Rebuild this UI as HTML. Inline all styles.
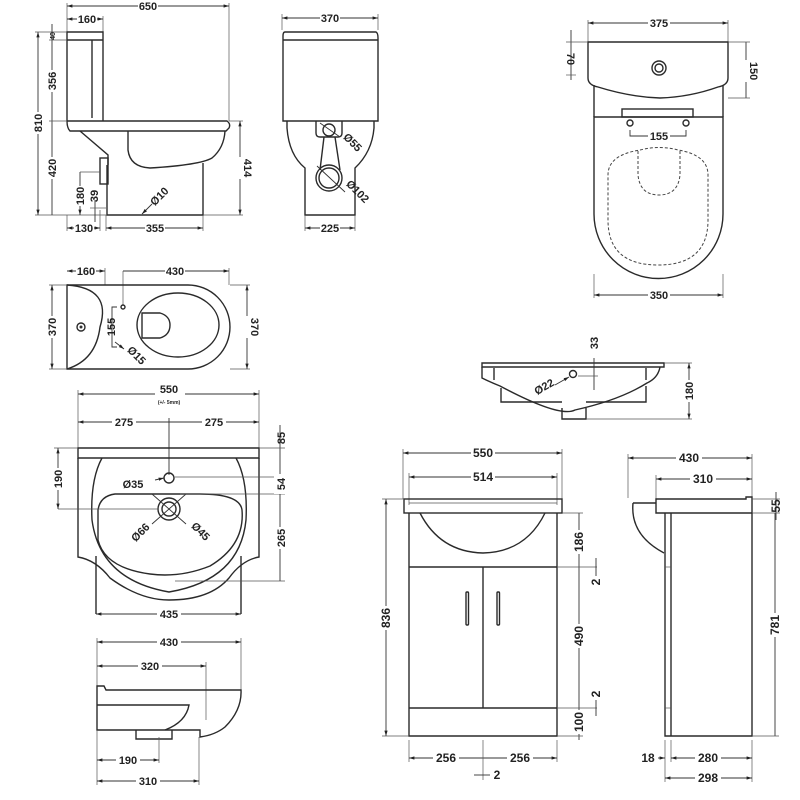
<!DOCTYPE html>
<html><head><meta charset="utf-8"><style>
html,body{margin:0;padding:0;background:#fff;}
svg{display:block;}
text{font-family:"Liberation Sans",sans-serif;font-weight:bold;font-size:11px;fill:#222;}
.o{fill:none;stroke:#2a2a2a;stroke-width:1.4;}
.d{fill:none;stroke:#333;stroke-width:0.9;}
.e{fill:none;stroke:#555;stroke-width:0.7;}
.ds{fill:none;stroke:#444;stroke-width:1;stroke-dasharray:3 2;}
</style></head><body>
<svg width="800" height="800" viewBox="0 0 800 800" xmlns="http://www.w3.org/2000/svg">
<defs>
<marker id="a" viewBox="0 0 10 10" refX="10" refY="5" markerWidth="6" markerHeight="6" orient="auto-start-reverse"><path d="M0,2 L10,5 L0,8z" fill="#222"/></marker>
</defs>
<rect width="800" height="800" fill="#fff"/>

<!-- ===== Toilet side view ===== -->
<g>
<line class="d" x1="67" y1="6" x2="229" y2="6" marker-start="url(#a)" marker-end="url(#a)"/>
<rect x="138" y="0" width="20" height="12" fill="#fff"/><text x="148" y="10" text-anchor="middle">650</text>
<line class="e" x1="67" y1="3" x2="67" y2="32"/><line class="e" x1="229" y1="3" x2="229" y2="121"/>
<line class="d" x1="67" y1="19" x2="103" y2="19" marker-start="url(#a)" marker-end="url(#a)"/>
<rect x="77" y="13" width="20" height="12" fill="#fff"/><text x="87" y="23" text-anchor="middle">160</text>
<line class="e" x1="103" y1="16" x2="103" y2="32"/>
<path class="o" d="M67,32 H103 V40 H67 Z M67,40 V121 M103,40 V121 M92,40 V118"/>
<path class="o" d="M67,121 H227 Q231,124 229,128 L226,131 H70 Q67,128 67,121"/>
<path class="o" d="M80,131 L108,155 L108,165"/>
<path class="o" d="M128,131 V150 Q130,167 150,168 Q200,165 212,158 Q224,148 225,131"/>
<path class="o" d="M107,165 V215 H203 V163"/>
<rect class="o" x="100" y="158" width="8" height="26"/>
<line class="d" x1="38" y1="32" x2="38" y2="215" marker-start="url(#a)" marker-end="url(#a)"/>
<rect x="31" y="112" width="14" height="22" fill="#fff"/><text transform="translate(42,123) rotate(-90)" text-anchor="middle">810</text>
<line class="e" x1="35" y1="32" x2="67" y2="32"/><line class="e" x1="35" y1="215" x2="107" y2="215"/>
<line class="d" x1="52" y1="24" x2="52" y2="215"/>
<text transform="translate(55,36) rotate(-90)" text-anchor="middle" style="font-size:7px">40</text>
<rect x="46" y="70" width="12" height="22" fill="#fff"/><text transform="translate(56,81) rotate(-90)" text-anchor="middle">356</text>
<rect x="46" y="157" width="12" height="22" fill="#fff"/><text transform="translate(56,168) rotate(-90)" text-anchor="middle">420</text>
<line class="e" x1="49" y1="40" x2="67" y2="40"/><line class="e" x1="49" y1="121" x2="67" y2="121"/>
<line class="d" x1="80" y1="172" x2="80" y2="215" marker-end="url(#a)"/><line class="e" x1="80" y1="172" x2="100" y2="172"/>
<rect x="74" y="186" width="12" height="20" fill="#fff"/><text transform="translate(84,196) rotate(-90)" text-anchor="middle">180</text>
<line class="d" x1="95" y1="200" x2="95" y2="222"/><line class="e" x1="90" y1="208" x2="106" y2="208"/>
<text transform="translate(98,196) rotate(-90)" text-anchor="middle">39</text>
<line class="d" x1="240" y1="121" x2="240" y2="215" marker-start="url(#a)" marker-end="url(#a)"/>
<line class="e" x1="229" y1="121" x2="243" y2="121"/><line class="e" x1="203" y1="215" x2="243" y2="215"/>
<rect x="234" y="157" width="12" height="22" fill="#fff"/><text transform="translate(244,168) rotate(90)" text-anchor="middle">414</text>
<line class="d" x1="67" y1="228" x2="100" y2="228" marker-start="url(#a)" marker-end="url(#a)"/>
<rect x="74" y="222" width="20" height="12" fill="#fff"/><text x="84" y="232" text-anchor="middle">130</text>
<line class="e" x1="67" y1="215" x2="67" y2="231"/><line class="e" x1="100" y1="210" x2="100" y2="231"/>
<line class="d" x1="106" y1="228" x2="203" y2="228" marker-start="url(#a)" marker-end="url(#a)"/>
<rect x="145" y="222" width="20" height="12" fill="#fff"/><text x="155" y="232" text-anchor="middle">355</text>
<line class="e" x1="106" y1="215" x2="106" y2="231"/><line class="e" x1="203" y1="215" x2="203" y2="231"/>
<line class="d" x1="142" y1="214" x2="152" y2="204" marker-start="url(#a)"/>
<text transform="translate(162,199) rotate(-45)" text-anchor="middle">Ø10</text>
</g>

<!-- ===== Toilet front view ===== -->
<g>
<line class="d" x1="282" y1="18" x2="378" y2="18" marker-start="url(#a)" marker-end="url(#a)"/>
<rect x="320" y="12" width="20" height="12" fill="#fff"/><text x="330" y="22" text-anchor="middle">370</text>
<line class="e" x1="282" y1="14" x2="282" y2="30"/><line class="e" x1="378" y1="14" x2="378" y2="30"/>
<path class="o" d="M285,32 H376 Q378,33 378,38 V121 H283 V36 Q283,32 285,32 M283,40 H378"/>
<path class="o" d="M287,121 V128 Q289,155 305,168 V215 H355 V168 Q372,152 374,128 V121"/>
<path class="o" d="M316,121 V133 Q316,137 320,137 H338 Q342,137 342,133 V121"/>
<circle class="o" cx="329" cy="130" r="6"/>
<path class="o" d="M324,137 L320,170 M335,137 L340,170"/>
<circle class="o" cx="329" cy="178" r="13"/><circle class="o" cx="329" cy="178" r="10"/>
<line class="d" x1="317" y1="166" x2="345" y2="192"/><line class="d" x1="320" y1="123" x2="340" y2="137"/>
<text transform="translate(350,145) rotate(45)" text-anchor="middle">Ø55</text>
<text transform="translate(355,194) rotate(45)" text-anchor="middle">Ø102</text>
<line class="d" x1="305" y1="228" x2="355" y2="228" marker-start="url(#a)" marker-end="url(#a)"/>
<rect x="320" y="222" width="20" height="12" fill="#fff"/><text x="330" y="232" text-anchor="middle">225</text>
<line class="e" x1="305" y1="215" x2="305" y2="231"/><line class="e" x1="355" y1="215" x2="355" y2="231"/>
</g>

<!-- ===== Toilet top plan ===== -->
<g>
<line class="d" x1="67" y1="271" x2="105" y2="271" marker-start="url(#a)" marker-end="url(#a)"/>
<rect x="76" y="265" width="20" height="12" fill="#fff"/><text x="86" y="275" text-anchor="middle">160</text>
<line class="e" x1="105" y1="268" x2="105" y2="285"/>
<line class="d" x1="123" y1="271" x2="229" y2="271" marker-end="url(#a)"/>
<rect x="165" y="265" width="20" height="12" fill="#fff"/><text x="175" y="275" text-anchor="middle">430</text>
<line class="e" x1="123" y1="271" x2="123" y2="305"/><line class="e" x1="229" y1="268" x2="229" y2="285"/>
<path class="o" d="M67,285 H188 A42,42 0 0 1 188,369 H67 Z"/>
<path class="o" d="M67,285 Q112,288 100,327 Q96,360 67,369"/>
<circle class="o" cx="81" cy="327" r="4"/><circle cx="81" cy="327" r="1.5" fill="#333"/>
<ellipse class="o" cx="178" cy="325" rx="41" ry="32"/>
<path class="o" d="M142,313 H160 Q170,316 170,325 Q170,335 160,338 H142 Z"/>
<circle class="o" cx="123" cy="307" r="2"/>
<path class="d" d="M117,307 H112 V347 H117"/>
<text transform="translate(115,327) rotate(-90)" text-anchor="middle">155</text>
<line class="d" x1="115" y1="342" x2="124" y2="349" marker-end="url(#a)"/>
<text transform="translate(134,358) rotate(45)" text-anchor="middle">Ø15</text>
<line class="d" x1="52" y1="285" x2="52" y2="369" marker-start="url(#a)" marker-end="url(#a)"/>
<line class="e" x1="49" y1="285" x2="67" y2="285"/><line class="e" x1="49" y1="369" x2="67" y2="369"/>
<rect x="46" y="316" width="12" height="22" fill="#fff"/><text transform="translate(56,327) rotate(-90)" text-anchor="middle">370</text>
<line class="d" x1="247" y1="285" x2="247" y2="369" marker-start="url(#a)" marker-end="url(#a)"/>
<line class="e" x1="230" y1="285" x2="250" y2="285"/><line class="e" x1="230" y1="369" x2="250" y2="369"/>
<rect x="241" y="316" width="12" height="22" fill="#fff"/><text transform="translate(251,327) rotate(90)" text-anchor="middle">370</text>
</g>

<!-- ===== Toilet plan right ===== -->
<g>
<line class="d" x1="588" y1="23" x2="728" y2="23" marker-start="url(#a)" marker-end="url(#a)"/>
<rect x="648" y="17" width="22" height="12" fill="#fff"/><text x="659" y="27" text-anchor="middle">375</text>
<line class="e" x1="588" y1="20" x2="588" y2="42"/><line class="e" x1="728" y1="20" x2="728" y2="42"/>
<path class="o" d="M588,42 H728 V78 Q728,85 718,87 Q690,97 660,98 Q630,97 598,87 Q588,85 588,78 Z"/>
<circle class="o" cx="659" cy="68" r="7"/><circle class="o" cx="659" cy="68" r="4"/>
<path class="o" d="M594,85 V117 M723,85 V117"/>
<rect class="o" x="622" y="109" width="71" height="8"/>
<path class="o" d="M594,117 H723 V214 A64.5,64.5 0 0 1 594,214 Z"/>
<circle class="o" cx="630" cy="123" r="3"/><circle class="o" cx="686" cy="123" r="3"/>
<path class="d" d="M630,130 V136 H686 V130"/>
<rect x="648" y="130" width="22" height="12" fill="#fff"/><text x="659" y="140" text-anchor="middle">155</text>
<path class="ds" d="M640,150 Q660,145 678,150 Q708,155 708,175 V220 Q708,265 658,265 Q608,265 608,220 V175 Q608,155 640,150 Z"/>
<path class="ds" d="M638,151 V175 Q640,195 659,195 Q678,195 680,175 V151"/>
<line class="d" x1="571" y1="30" x2="571" y2="80"/>
<line class="e" x1="566" y1="42" x2="588" y2="42"/><line class="e" x1="566" y1="75" x2="576" y2="75"/>
<text transform="translate(567,59) rotate(90)" text-anchor="middle">70</text>
<line class="d" x1="746" y1="42" x2="746" y2="98"/>
<line class="e" x1="728" y1="42" x2="750" y2="42"/><line class="e" x1="728" y1="98" x2="750" y2="98"/>
<rect x="740" y="60" width="12" height="22" fill="#fff"/><text transform="translate(750,71) rotate(90)" text-anchor="middle">150</text>
<line class="d" x1="594" y1="295" x2="723" y2="295" marker-start="url(#a)" marker-end="url(#a)"/>
<rect x="648" y="289" width="22" height="12" fill="#fff"/><text x="659" y="299" text-anchor="middle">350</text>
<line class="e" x1="594" y1="274" x2="594" y2="298"/><line class="e" x1="723" y1="274" x2="723" y2="298"/>
</g>

<!-- ===== small basin side (right) ===== -->
<g>
<path class="o" d="M482,363 H664 V367 H482 Z"/>
<path class="o" d="M482,367 V378 Q490,382 500,386 Q560,418 575,410 Q620,400 647,383 Q658,378 660,367"/>
<path class="o" d="M501,388 V402 H562 M586,402 H646 V386"/>
<path class="o" d="M562,408 V419 H586 V408"/>
<path class="o" d="M494,368 V380 M646,368 V380"/>
<circle class="o" cx="573" cy="374" r="3.5"/>
<line class="d" x1="594" y1="358" x2="594" y2="390"/><line class="e" x1="578" y1="376" x2="598" y2="376"/>
<text transform="translate(598,343) rotate(-90)" text-anchor="middle">33</text>
<line class="d" x1="555" y1="385" x2="569" y2="377" marker-end="url(#a)"/>
<text transform="translate(546,390) rotate(-30)" text-anchor="middle">Ø22</text>
<line class="d" x1="689" y1="363" x2="689" y2="419" marker-start="url(#a)" marker-end="url(#a)"/>
<line class="e" x1="664" y1="363" x2="692" y2="363"/><line class="e" x1="586" y1="419" x2="692" y2="419"/>
<rect x="683" y="380" width="12" height="22" fill="#fff"/><text transform="translate(693,391) rotate(-90)" text-anchor="middle">180</text>
</g>

<!-- ===== Basin top view ===== -->
<g>
<line class="d" x1="78" y1="394" x2="259" y2="394" marker-start="url(#a)" marker-end="url(#a)"/>
<rect x="155" y="382" width="30" height="24" fill="#fff"/>
<text x="169" y="393" text-anchor="middle">550</text>
<text x="169" y="404" text-anchor="middle" style="font-size:5px">(+/- 5mm)</text>
<line class="e" x1="78" y1="390" x2="78" y2="448"/><line class="e" x1="259" y1="390" x2="259" y2="448"/>
<line class="d" x1="78" y1="422" x2="259" y2="422" marker-start="url(#a)" marker-end="url(#a)"/>
<rect x="112" y="416" width="24" height="12" fill="#fff"/><text x="124" y="426" text-anchor="middle">275</text>
<rect x="202" y="416" width="24" height="12" fill="#fff"/><text x="214" y="426" text-anchor="middle">275</text>
<line class="d" x1="169" y1="418" x2="169" y2="475"/>
<path class="o" d="M78,448 H259 V458 H78 Z"/>
<path class="o" d="M78,458 V557 Q96,560 110,578 Q140,600 169,600 Q210,600 229,578 Q242,560 259,557 V458"/>
<path class="o" d="M102,458 Q90,480 92,520 Q100,580 169,592 Q240,580 246,520 Q248,480 236,458"/>
<path class="o" d="M96,556 V614 M241,556 V614"/>
<path class="o" d="M98,510 Q100,496 115,494 L200,494 Q240,494 242,510 Q245,545 210,566 Q180,578 150,574 Q105,568 98,540 Z"/>
<circle class="o" cx="169" cy="478" r="5"/>
<circle class="o" cx="169" cy="509" r="11"/><circle class="o" cx="169" cy="509" r="7"/>
<line class="d" x1="152" y1="494" x2="186" y2="524"/><line class="d" x1="186" y1="494" x2="152" y2="524"/>
<line class="d" x1="155" y1="480" x2="164" y2="478" marker-end="url(#a)"/>
<line class="e" x1="175" y1="477" x2="285" y2="477"/><line class="e" x1="180" y1="494" x2="285" y2="494"/>
<line class="e" x1="58" y1="509" x2="158" y2="509"/><line class="e" x1="175" y1="581" x2="285" y2="581"/>
<text x="133" y="488" text-anchor="middle">Ø35</text>
<text transform="translate(143,535) rotate(-45)" text-anchor="middle">Ø66</text>
<text transform="translate(198,534) rotate(45)" text-anchor="middle">Ø45</text>
<line class="d" x1="58" y1="448" x2="58" y2="509" marker-start="url(#a)" marker-end="url(#a)"/>
<line class="e" x1="54" y1="448" x2="78" y2="448"/>
<rect x="52" y="468" width="12" height="22" fill="#fff"/><text transform="translate(62,479) rotate(-90)" text-anchor="middle">190</text>
<line class="d" x1="280" y1="425" x2="280" y2="581" />
<line class="e" x1="259" y1="448" x2="285" y2="448"/>
<text transform="translate(285,438) rotate(-90)" text-anchor="middle">85</text>
<rect x="274" y="474" width="12" height="20" fill="#fff"/><text transform="translate(285,484) rotate(-90)" text-anchor="middle">54</text>
<rect x="274" y="527" width="12" height="22" fill="#fff"/><text transform="translate(285,538) rotate(-90)" text-anchor="middle">265</text>
<line class="d" x1="96" y1="614" x2="241" y2="614" marker-start="url(#a)" marker-end="url(#a)"/>
<rect x="157" y="608" width="24" height="12" fill="#fff"/><text x="169" y="618" text-anchor="middle">435</text>
</g>

<!-- ===== Basin side view ===== -->
<g>
<line class="d" x1="97" y1="642" x2="241" y2="642" marker-start="url(#a)" marker-end="url(#a)"/>
<rect x="157" y="636" width="24" height="12" fill="#fff"/><text x="169" y="646" text-anchor="middle">430</text>
<line class="e" x1="97" y1="638" x2="97" y2="686"/><line class="e" x1="241" y1="638" x2="241" y2="690"/>
<line class="d" x1="97" y1="666" x2="206" y2="666" marker-start="url(#a)" marker-end="url(#a)"/>
<rect x="138" y="660" width="24" height="12" fill="#fff"/><text x="150" y="670" text-anchor="middle">320</text>
<line class="e" x1="206" y1="662" x2="206" y2="720"/>
<path class="o" d="M97,686 H104 L106,690 H241 Q242,710 225,727 Q215,735 200,737 V730 H97 Z"/>
<path class="o" d="M97,705 H189 Q186,722 165,730"/>
<path class="o" d="M136,730 V739 H172 V730"/>
<line class="e" x1="97" y1="730" x2="97" y2="785"/><line class="e" x1="159" y1="737" x2="159" y2="763"/><line class="e" x1="199" y1="737" x2="199" y2="785"/>
<line class="d" x1="97" y1="760" x2="159" y2="760" marker-start="url(#a)" marker-end="url(#a)"/>
<rect x="116" y="754" width="24" height="12" fill="#fff"/><text x="128" y="764" text-anchor="middle">190</text>
<line class="d" x1="97" y1="781" x2="199" y2="781" marker-start="url(#a)" marker-end="url(#a)"/>
<rect x="136" y="775" width="24" height="12" fill="#fff"/><text x="148" y="785" text-anchor="middle">310</text>
</g>

<!-- ===== Vanity front ===== -->
<g>
<line class="d" x1="403" y1="453" x2="562" y2="453" marker-start="url(#a)" marker-end="url(#a)"/>
<rect x="471" y="446" width="24" height="14" fill="#fff"/><text x="483" y="457" text-anchor="middle" style="font-size:12px">550</text>
<line class="e" x1="403" y1="449" x2="403" y2="499"/><line class="e" x1="562" y1="449" x2="562" y2="499"/>
<line class="d" x1="409" y1="477" x2="557" y2="477" marker-start="url(#a)" marker-end="url(#a)"/>
<rect x="471" y="470" width="24" height="14" fill="#fff"/><text x="483" y="481" text-anchor="middle" style="font-size:12px">514</text>
<line class="e" x1="409" y1="473" x2="409" y2="505"/><line class="e" x1="557" y1="473" x2="557" y2="505"/>
<rect class="o" x="404" y="499" width="158" height="14"/>
<line class="e" x1="409" y1="503" x2="557" y2="503"/>
<path class="o" d="M409,513 V736 H557 V513"/>
<path class="o" d="M420,513 Q440,552 483,553 Q526,552 545,513"/>
<path class="o" d="M409,567 H557 M409,708 H557 M483,567 V708"/>
<rect class="o" x="466" y="592" width="2.5" height="33" rx="1"/>
<rect class="o" x="497" y="592" width="2.5" height="33" rx="1"/>
<line class="d" x1="386" y1="499" x2="386" y2="736" marker-start="url(#a)" marker-end="url(#a)"/>
<line class="e" x1="382" y1="499" x2="404" y2="499"/><line class="e" x1="382" y1="736" x2="409" y2="736"/>
<rect x="379" y="606" width="14" height="24" fill="#fff"/><text transform="translate(390,618) rotate(-90)" text-anchor="middle" style="font-size:12px">836</text>
<line class="d" x1="579" y1="513" x2="579" y2="740"/>
<line class="e" x1="562" y1="513" x2="583" y2="513"/><line class="e" x1="557" y1="567" x2="597" y2="567"/>
<line class="e" x1="557" y1="708" x2="597" y2="708"/><line class="e" x1="557" y1="736" x2="583" y2="736"/>
<rect x="572" y="530" width="14" height="24" fill="#fff"/><text transform="translate(583,542) rotate(-90)" text-anchor="middle" style="font-size:12px">186</text>
<rect x="572" y="624" width="14" height="24" fill="#fff"/><text transform="translate(583,636) rotate(-90)" text-anchor="middle" style="font-size:12px">490</text>
<rect x="572" y="710" width="14" height="24" fill="#fff"/><text transform="translate(583,722) rotate(-90)" text-anchor="middle" style="font-size:12px">100</text>
<line class="d" x1="596" y1="558" x2="596" y2="576"/><line class="d" x1="596" y1="700" x2="596" y2="716"/>
<text transform="translate(600,582) rotate(-90)" text-anchor="middle" style="font-size:12px">2</text>
<text transform="translate(600,694) rotate(-90)" text-anchor="middle" style="font-size:12px">2</text>
<line class="d" x1="409" y1="758" x2="557" y2="758" marker-start="url(#a)" marker-end="url(#a)"/>
<line class="e" x1="409" y1="740" x2="409" y2="762"/><line class="e" x1="557" y1="740" x2="557" y2="762"/>
<line class="e" x1="483" y1="740" x2="483" y2="780"/>
<rect x="433" y="751" width="26" height="14" fill="#fff"/><text x="446" y="762" text-anchor="middle" style="font-size:12px">256</text>
<rect x="507" y="751" width="26" height="14" fill="#fff"/><text x="520" y="762" text-anchor="middle" style="font-size:12px">256</text>
<line class="d" x1="474" y1="775" x2="490" y2="775"/>
<text x="497" y="779" text-anchor="middle" style="font-size:12px">2</text>
</g>

<!-- ===== Vanity side ===== -->
<g>
<line class="d" x1="628" y1="458" x2="752" y2="458" marker-start="url(#a)" marker-end="url(#a)"/>
<rect x="676" y="451" width="26" height="14" fill="#fff"/><text x="689" y="462" text-anchor="middle" style="font-size:12px">430</text>
<line class="e" x1="628" y1="454" x2="628" y2="498"/><line class="e" x1="752" y1="454" x2="752" y2="503"/>
<line class="d" x1="656" y1="479" x2="752" y2="479" marker-start="url(#a)" marker-end="url(#a)"/>
<rect x="690" y="472" width="26" height="14" fill="#fff"/><text x="703" y="483" text-anchor="middle" style="font-size:12px">310</text>
<line class="e" x1="656" y1="475" x2="656" y2="499"/>
<path class="o" d="M656,499 H746 V497 H752 V513 H656 Z"/>
<path class="o" d="M633,503 Q630,535 664,553"/>
<path class="o" d="M633,503 H656"/>
<path class="o" d="M665,513 V736 H752 V513 M671,513 V736"/>
<line class="e" x1="665" y1="567" x2="671" y2="567"/><line class="e" x1="665" y1="708" x2="671" y2="708"/>
<line class="d" x1="776" y1="492" x2="776" y2="520"/>
<line class="e" x1="752" y1="499" x2="780" y2="499"/><line class="e" x1="752" y1="513" x2="780" y2="513"/>
<text transform="translate(780,506) rotate(-90)" text-anchor="middle" style="font-size:12px">55</text>
<line class="d" x1="775" y1="513" x2="775" y2="736"/><line class="e" x1="752" y1="736" x2="779" y2="736"/>
<rect x="768" y="613" width="14" height="24" fill="#fff"/><text transform="translate(779,625) rotate(-90)" text-anchor="middle" style="font-size:12px">781</text>
<line class="e" x1="665" y1="740" x2="665" y2="782"/><line class="e" x1="671" y1="740" x2="671" y2="762"/><line class="e" x1="752" y1="740" x2="752" y2="782"/>
<line class="d" x1="658" y1="758" x2="665" y2="758" marker-end="url(#a)"/>
<text x="648" y="762" text-anchor="middle" style="font-size:12px">18</text>
<line class="d" x1="671" y1="758" x2="752" y2="758" marker-start="url(#a)" marker-end="url(#a)"/>
<rect x="695" y="751" width="26" height="14" fill="#fff"/><text x="708" y="762" text-anchor="middle" style="font-size:12px">280</text>
<line class="d" x1="665" y1="778" x2="752" y2="778" marker-start="url(#a)" marker-end="url(#a)"/>
<rect x="695" y="771" width="26" height="14" fill="#fff"/><text x="708" y="782" text-anchor="middle" style="font-size:12px">298</text>
</g>
</svg>
</body></html>
